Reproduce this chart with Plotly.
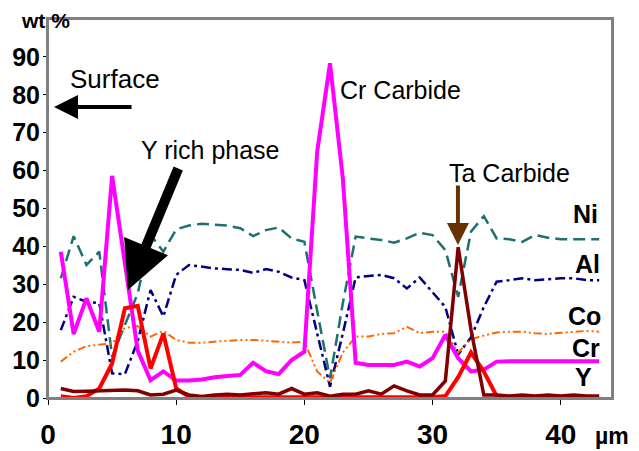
import plotly.graph_objects as go

x_um = list(range(1, 44))

ni = [31.6, 42.7, 35.1, 38.6, 10.9, 19, 27.6, 43, 38.6, 44.5, 45.5, 46, 45.8, 45.5, 44.8,
      42.7, 44.3, 45, 42.1, 41.2, 23, 5.2, 25, 42.6, 42.1, 41.7, 41, 42.1, 43.6, 43,
      39, 26.7, 43.9, 48, 42.1, 41.9, 41.2, 43, 42.3, 41.9, 41.9, 41.9, 41.9]
al = [17.9, 26.7, 25.4, 25, 6.5, 6.3, 15, 28.5, 21.5, 32.5, 35.1, 34.7, 34.2, 34, 33.8,
      33, 34, 33.3, 31.8, 31.1, 17, 3, 17, 31.8, 32.2, 32.5, 31.6, 28.9, 31.8, 28,
      24, 11.5, 16, 24, 30.7, 31.1, 31.6, 31.1, 31.3, 31.6, 31.6, 31.1, 31.1]
co = [9.6, 12.2, 13.7, 14, 14.4, 18.5, 19, 16.2, 17.7, 15.3, 14.6, 14.6, 14.9, 15.1, 15.3,
      15.3, 15.1, 14.9, 14.6, 14.9, 7, 4, 12, 16.2, 16.2, 16.9, 17.1, 18.8, 17.1, 17.5,
      17.5, 12, 15.5, 16.5, 17.3, 17.5, 17.5, 17.1, 16.9, 17.2, 17.5, 17.7, 17.5]
cr = [38.6, 16.9, 26.3, 17.5, 58.6, 36, 12.5, 4.7, 7, 4.6, 4.6, 4.9, 5.5, 5.8, 6.1,
      9.3, 7.1, 6.3, 10, 12.2, 65, 88.3, 58, 9.3, 8.7, 8.7, 8.7, 9.6, 8.3, 10.5,
      16.6, 10.5, 7, 7.5, 9.6, 9.7, 9.7, 9.7, 9.7, 9.7, 9.7, 9.7, 9.7]
y_el = [0.5, 0, 0.5, 2.5, 9.1, 23.7, 24.3, 7.8, 17, 2.5, 0.3, 0.2, 0.2, 0.2, 0.2,
        0.2, 0.2, 0.2, 0.2, 0.2, 0.2, 0.2, 0.2, 0.2, 0.2, 0.2, 0.2, 0.2, 0.2, 0.2,
        0.5, 5.5, 12, 7, 0.5, 0.2, 0.2, 0.2, 0.2, 0.2, 0.2, 0.2, 0.2]
ta = [2.5, 1.7, 1.8, 1.9, 2.1, 2.1, 1.9, 0.8, 1, 2.1, 0.8, 0.4, 0.8, 1, 0.8,
      1, 1.4, 1, 2.5, 1, 1.4, 0.5, 1, 1, 1.9, 1, 3.2, 1.9, 0.8, 0.8,
      4.5, 39.8, 18, 0.8, 0.8, 0.5, 0.8, 0.5, 0.8, 0.5, 0.8, 0.5, 0.5]

x_ticks = [0, 10, 20, 30, 40]
y_ticks = [0, 10, 20, 30, 40, 50, 60, 70, 80, 90]

FONT = "Arial, Liberation Sans, sans-serif"

series = [
    ("Ni", ni, "#1f7070", 2.5, "12px,6px"),
    ("Al", al, "#000080", 2.5, "10px,4px,3px,4px"),
    ("Co", co, "#ff6600", 2.0, "8px,3px,2px,3px,2px,3px"),
    ("Cr", cr, "#ff00ff", 4.0, "solid"),
    ("Y", y_el, "#ff0000", 4.0, "solid"),
    ("Ta", ta, "#800000", 3.5, "solid"),
]

fig = go.Figure()
for name, vals, color, w, dash in series:
    fig.add_trace(go.Scatter(x=x_um, y=vals, mode="lines", name=name,
                             line=dict(color=color, width=w, dash=dash),
                             showlegend=False, hoverinfo="skip"))

ann = []
def txt(t, x, y, size=24, bold=False, ref="data"):
    d = dict(text=("<b>%s</b>" % t) if bold else t, x=x, y=y,
             showarrow=False, xanchor="center", yanchor="middle",
             font=dict(family=FONT, size=size, color="black"))
    if ref == "data":
        d.update(xref="x", yref="y")
    else:
        d.update(xref="paper", yref="paper")
    ann.append(d)

# plot area in pixels: left 48, right 612, top 19, bottom 398
PW, PH = 612 - 48, 398 - 19
def px(xp):
    return (xp - 48) / PW
def py(yp):
    return (398 - yp) / PH

txt("wt %", px(45), py(21), size=21, bold=True, ref="paper")
txt("µm", px(612), py(436), size=23, bold=True, ref="paper")
txt("Surface", 5.2, 84.2, size=26)
txt("Y rich phase", 12.7, 65.4, size=25)
txt("Cr Carbide", 27.5, 81.3, size=25)
txt("Ta Carbide", 36.0, 59.4, size=25)
txt("Ni", 41.95, 48.5, size=25, bold=True)
txt("Al", 42.1, 35.4, size=25, bold=True)
txt("Co", 41.87, 21.6, size=25, bold=True)
txt("Cr", 42.0, 13.2, size=25, bold=True)
txt("Y", 41.8, 5.5, size=25, bold=True)

# arrows
ann.append(dict(text="", x=0.47, y=76.8, xref="x", yref="y", ax=79, ay=0,
                showarrow=True, arrowhead=2, arrowsize=1.2, arrowwidth=4, arrowcolor="black"))
ann.append(dict(text="", x=6.23, y=28.5, xref="x", yref="y", ax=51, ay=-123,
                showarrow=True, arrowhead=2, arrowsize=0.95, arrowwidth=10, arrowcolor="black"))
ann.append(dict(text="", x=31.98, y=40.4, xref="x", yref="y", ax=0, ay=-61,
                showarrow=True, arrowhead=2, arrowsize=1.1, arrowwidth=4, arrowcolor="#663300"))

frame = [
    dict(type="rect", xref="paper", yref="paper", x0=0, x1=1, y0=0, y1=1,
         line=dict(color="#808080", width=2), fillcolor="rgba(0,0,0,0)", layer="above"),
]

fig.update_layout(
    width=639, height=451,
    margin=dict(l=48, r=27, t=19, b=53, autoexpand=False),
    paper_bgcolor="white", plot_bgcolor="white",
    annotations=ann,
    shapes=frame,
    xaxis=dict(range=[0, 44], tickvals=x_ticks, ticktext=[str(v) for v in x_ticks],
               showgrid=False, zeroline=False, showline=True, linecolor="#808080",
               linewidth=2, mirror=True, ticks="outside", ticklen=5, tickcolor="black",
               ticklabelstandoff=5, automargin=False,
               tickfont=dict(family=FONT, size=28, color="black", weight="bold")),
    yaxis=dict(range=[0, 100], tickvals=y_ticks, ticktext=[str(v) for v in y_ticks],
               showgrid=False, zeroline=False, showline=True, linecolor="#808080",
               linewidth=2, mirror=True, ticks="outside", ticklen=3, tickcolor="black",
               ticklabelstandoff=-2, automargin=False,
               tickfont=dict(family=FONT, size=25, color="black", weight="bold")),
)

fig.write_html("out.html", config={"displayModeBar": False},
               post_script="document.body.style.margin='0px';document.body.style.overflow='hidden';")
